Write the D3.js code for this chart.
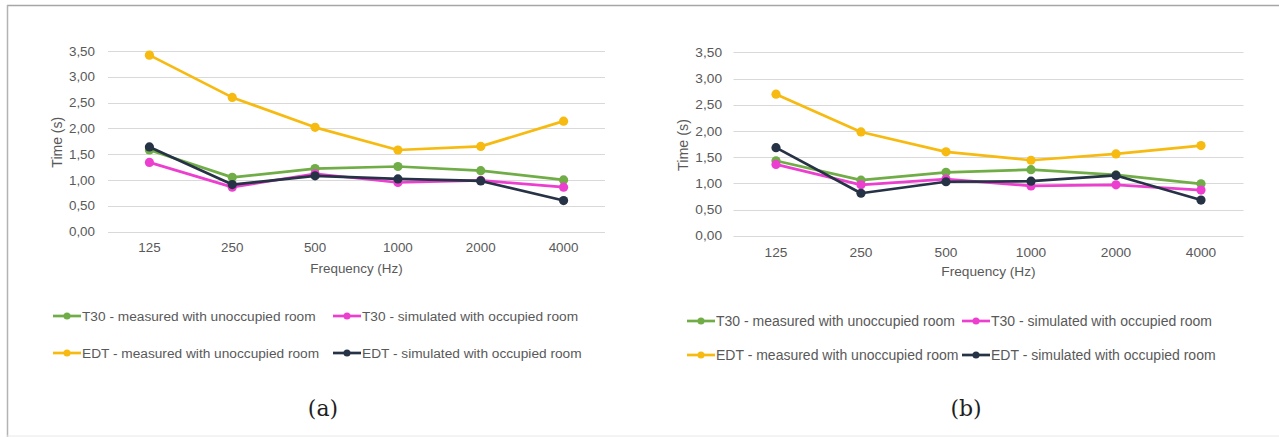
<!DOCTYPE html>
<html>
<head>
<meta charset="utf-8">
<script src="https://cdn.jsdelivr.net/npm/d3@7"></script>
<style>
  html, body { margin: 0; padding: 0; background: #ffffff; }
  svg { display: block; }
</style>
</head>
<body>
<svg id="fig" width="1279" height="437"></svg>
<script>
// Octave-band centre frequencies and y-axis ticks (seconds)
const frequencies = ["125", "250", "500", "1000", "2000", "4000"];
const timeTicks = [0, 0.5, 1, 1.5, 2, 2.5, 3, 3.5];

const seriesNames = [
  "T30 - measured with unoccupied room",
  "T30 - simulated with occupied room",
  "EDT - measured with unoccupied room",
  "EDT - simulated with occupied room"
];
const seriesColors = ["#70AD47", "#EC3FD0", "#F6BA10", "#263246"];

// Panel (a)
const t30MeasuredA  = [1.58, 1.05, 1.22, 1.26, 1.18, 1.00];
const t30SimulatedA = [1.34, 0.86, 1.12, 0.95, 0.99, 0.86];
const edtMeasuredA  = [3.42, 2.60, 2.02, 1.58, 1.65, 2.14];
const edtSimulatedA = [1.64, 0.91, 1.08, 1.02, 0.98, 0.60];

// Panel (b)
const t30MeasuredB  = [1.43, 1.06, 1.21, 1.26, 1.16, 0.99];
const t30SimulatedB = [1.36, 0.97, 1.08, 0.95, 0.97, 0.87];
const edtMeasuredB  = [2.70, 1.98, 1.60, 1.44, 1.56, 1.72];
const edtSimulatedB = [1.68, 0.81, 1.03, 1.04, 1.15, 0.68];

const captions = ["(a)", "(b)"];

const panels = [
  {
    caption: captions[0],
    series: [t30MeasuredA, t30SimulatedA, edtMeasuredA, edtSimulatedA],
    x0: 108, x1: 605, yTop: 51, yBottom: 231.5,
    fontSize: 13.4, tickLabelX: 95, xTickY: 252, xTitleY: 273, yTitleX: 57,
    legendRows: [316, 353], legendCols: [53, 333], legendSym: 28, legendFont: 13.7,
    captionX: 323, captionY: 416
  },
  {
    caption: captions[1],
    series: [t30MeasuredB, t30SimulatedB, edtMeasuredB, edtSimulatedB],
    x0: 733.5, x1: 1243.5, yTop: 52.3, yBottom: 235.7,
    fontSize: 13.7, tickLabelX: 722, xTickY: 257, xTitleY: 276, yTitleX: 683,
    legendRows: [321, 355], legendCols: [687, 962], legendSym: 28, legendFont: 14,
    captionX: 966, captionY: 416
  }
];

const svg = d3.select("#fig");
const fmt = v => d3.format(".2f")(v).replace(".", ",");
const font = "'Liberation Sans', Arial, sans-serif";
const textColor = "#595959";

// Figure frame
svg.append("line").attr("x1", 7).attr("x2", 1279).attr("y1", 5.5).attr("y2", 5.5)
  .attr("stroke", "#a6a6a6").attr("stroke-width", 1.5);
svg.append("line").attr("x1", 7.5).attr("x2", 7.5).attr("y1", 5).attr("y2", 437)
  .attr("stroke", "#b3b3b3").attr("stroke-width", 1.5);
svg.append("line").attr("x1", 7).attr("x2", 1279).attr("y1", 436).attr("y2", 436)
  .attr("stroke", "#e8e8e8").attr("stroke-width", 1);

panels.forEach(p => {
  const g = svg.append("g");

  const x = d3.scaleBand().domain(frequencies).range([p.x0, p.x1]).padding(0);
  const y = d3.scaleLinear().domain([0, 3.5]).range([p.yBottom, p.yTop]);
  const cx = d => x(d) + x.bandwidth() / 2;

  // Horizontal gridlines
  g.append("g").selectAll("line").data(timeTicks).join("line")
    .attr("x1", p.x0).attr("x2", p.x1)
    .attr("y1", d => Math.round(y(d)) + 0.5).attr("y2", d => Math.round(y(d)) + 0.5)
    .attr("stroke", "#d9d9d9").attr("stroke-width", 1);

  // Y tick labels
  g.append("g").selectAll("text").data(timeTicks).join("text")
    .attr("x", p.tickLabelX).attr("y", d => y(d)).attr("dy", "0.35em")
    .attr("text-anchor", "end").attr("font-family", font)
    .attr("font-size", p.fontSize).attr("fill", textColor)
    .text(fmt);

  // X tick labels
  g.append("g").selectAll("text").data(frequencies).join("text")
    .attr("x", cx).attr("y", p.xTickY)
    .attr("text-anchor", "middle").attr("font-family", font)
    .attr("font-size", p.fontSize).attr("fill", textColor)
    .text(d => d);

  // Axis titles
  g.append("text")
    .attr("x", (p.x0 + p.x1) / 2).attr("y", p.xTitleY)
    .attr("text-anchor", "middle").attr("font-family", font)
    .attr("font-size", p.fontSize).attr("fill", textColor)
    .text("Frequency (Hz)");
  g.append("text")
    .attr("transform", `translate(${p.yTitleX},${(p.yTop + p.yBottom) / 2 + 1}) rotate(-90)`)
    .attr("dy", "0.35em")
    .attr("text-anchor", "middle").attr("font-family", font)
    .attr("font-size", p.fontSize + 0.6).attr("fill", textColor)
    .text("Time (s)");

  // Series lines and markers
  const line = d3.line().x((d, i) => cx(frequencies[i])).y(d => y(d));
  p.series.forEach((vals, si) => {
    const sg = g.append("g");
    sg.append("path").datum(vals)
      .attr("d", line).attr("fill", "none")
      .attr("stroke", seriesColors[si]).attr("stroke-width", 2.7)
      .attr("stroke-linejoin", "round");
    sg.selectAll("circle").data(vals).join("circle")
      .attr("cx", (d, i) => cx(frequencies[i])).attr("cy", d => y(d))
      .attr("r", 4.6).attr("fill", seriesColors[si]);
  });

  // Legend, two columns by two rows
  seriesNames.forEach((name, si) => {
    const lx = p.legendCols[si % 2];
    const ly = p.legendRows[Math.floor(si / 2)];
    const lg = g.append("g");
    lg.append("line").attr("x1", lx).attr("x2", lx + p.legendSym)
      .attr("y1", ly).attr("y2", ly)
      .attr("stroke", seriesColors[si]).attr("stroke-width", 2.7);
    lg.append("circle").attr("cx", lx + p.legendSym / 2).attr("cy", ly)
      .attr("r", 3.5).attr("fill", seriesColors[si]);
    lg.append("text").attr("x", lx + p.legendSym + 1).attr("y", ly).attr("dy", "0.35em")
      .attr("font-family", font).attr("font-size", p.legendFont).attr("fill", textColor)
      .text(name);
  });

  // Panel caption
  g.append("text")
    .attr("x", p.captionX).attr("y", p.captionY)
    .attr("text-anchor", "middle")
    .attr("font-family", "'DejaVu Serif', 'Liberation Serif', serif")
    .attr("font-size", 22).attr("fill", "#1f1f1f")
    .text(p.caption);
});
</script>
</body>
</html>
